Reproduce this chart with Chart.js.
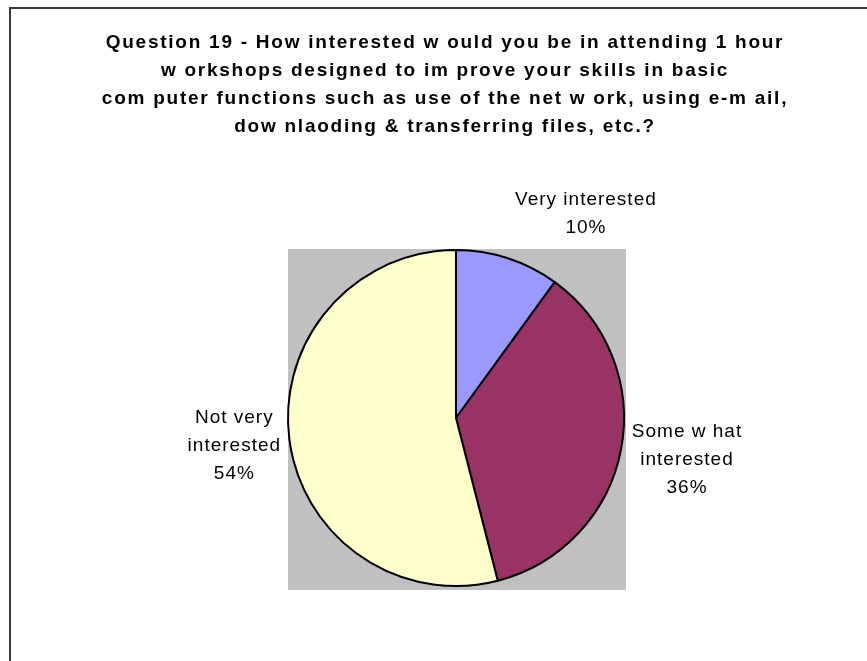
<!DOCTYPE html>
<html>
<head>
<meta charset="utf-8">
<script src="https://cdn.jsdelivr.net/npm/chart.js@4/dist/chart.umd.min.js"></script>
<style>
  body { margin: 0; background: #fff; }
  canvas { display: block; }
</style>
</head>
<body>
<canvas id="myChart" width="867" height="661"></canvas>
<script>
const titleLines = [
  "Question 19 - How interested w ould you be in attending 1 hour",
  "w orkshops designed to im prove your skills in basic",
  "com puter functions such as use of the net w ork, using e-m ail,",
  "dow nlaoding & transferring files, etc.?",
];
const categories = ["Very interested", "Some w hat interested", "Not very interested"];
const labelLines = [["Very interested"], ["Some w hat", "interested"], ["Not very", "interested"]];
const percents = [10, 36, 54];
const colors = ["#9999FF", "#993366", "#FFFFCC"];
// where each label block sits, relative to the slice's outer mid point
const labelOffsets = [[78, -44], [66, 10], [-55, 7]];

const frame = {
  id: "frame",
  beforeDraw(chart) {
    const ctx = chart.ctx;
    const a = chart.chartArea;
    ctx.save();
    ctx.fillStyle = "#fff";
    ctx.fillRect(0, 0, chart.width, chart.height);
    // outer border (top + left only, rest is cut off)
    ctx.strokeStyle = "#3a3a3a";
    ctx.lineWidth = 2;
    ctx.beginPath();
    ctx.moveTo(chart.width + 2, 8);
    ctx.lineTo(10, 8);
    ctx.lineTo(10, chart.height + 2);
    ctx.stroke();
    // gray plot area
    ctx.fillStyle = "#C0C0C0";
    ctx.fillRect(a.left + 1, a.top, a.width, a.height + 3);
    ctx.restore();
  },
  afterDraw(chart) {
    const ctx = chart.ctx;
    ctx.save();
    ctx.fillStyle = "#000";
    ctx.textAlign = "center";
    ctx.textBaseline = "middle";
    ctx.font = "bold 19px 'Liberation Sans', Arial, sans-serif";
    ctx.letterSpacing = "1.75px";
    titleLines.forEach((t, i) => {
      ctx.fillText(t, 445, 43 + i * 27.8);
    });

    ctx.font = "19px 'Liberation Sans', Arial, sans-serif";
    ctx.letterSpacing = "1px";
    const meta = chart.getDatasetMeta(0);
    meta.data.forEach((arc, i) => {
      const mid = (arc.startAngle + arc.endAngle) / 2;
      const x = arc.x + Math.cos(mid) * arc.outerRadius + labelOffsets[i][0];
      const y = arc.y + Math.sin(mid) * arc.outerRadius + labelOffsets[i][1];
      const lines = labelLines[i].concat([percents[i] + "%"]);
      const lh = 28;
      const y0 = y - ((lines.length - 1) * lh) / 2;
      lines.forEach((l, j) => ctx.fillText(l, x, y0 + j * lh));
    });
    ctx.restore();
  },
};

new Chart("myChart", {
  type: "pie",
  data: {
    labels: categories,
    datasets: [{
      data: percents,
      backgroundColor: colors,
      borderColor: "#000",
      borderWidth: 2,
    }],
  },
  options: {
    responsive: false,
    animation: false,
    layout: { padding: { left: 287, right: 242, top: 249, bottom: 74 } },
    plugins: {
      legend: { display: false },
      tooltip: { enabled: false },
      title: { display: false },
    },
  },
  plugins: [frame],
});
</script>
</body>
</html>
